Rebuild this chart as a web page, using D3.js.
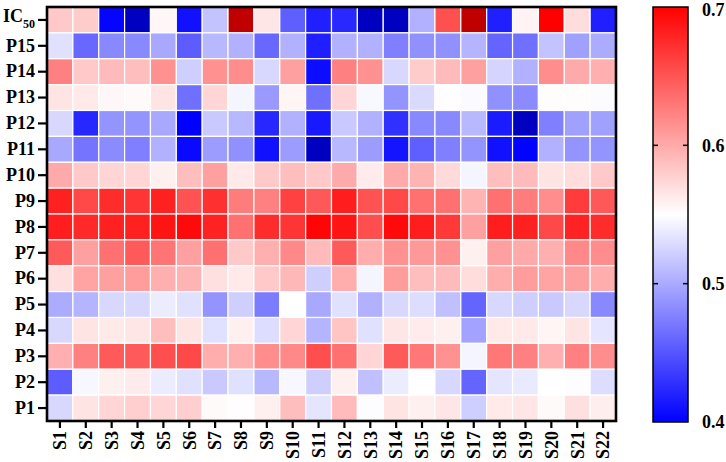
<!DOCTYPE html>
<html>
<head>
<meta charset="utf-8">
<script src="https://cdn.jsdelivr.net/npm/d3@7"></script>
<style>
  body { margin: 0; background: #fff; }
  text { font-family: "Liberation Serif", "Times New Roman", serif; font-weight: bold; }
</style>
</head>
<body>
<svg id="chart" width="726" height="462"></svg>
<script>
// column / row labels (rows listed top to bottom)
const samples = ["S1","S2","S3","S4","S5","S6","S7","S8","S9","S10","S11",
                 "S12","S13","S14","S15","S16","S17","S18","S19","S20","S21","S22"];
const rowNames = ["IC50","P15","P14","P13","P12","P11","P10","P9","P8","P7","P6","P5","P4","P3","P2","P1"];

// values, one array per row
const IC50 = [0.582,0.58,0.403,0.38,0.555,0.41,0.515,0.72,0.565,0.456,0.418,0.424,0.38,0.38,0.504,0.653,0.72,0.418,0.557,0.70,0.57,0.418];
const P15 = [0.532,0.461,0.48,0.48,0.499,0.454,0.508,0.504,0.461,0.504,0.418,0.504,0.504,0.475,0.485,0.485,0.506,0.459,0.466,0.515,0.494,0.501];
const P14 = [0.625,0.582,0.59,0.588,0.615,0.522,0.615,0.617,0.527,0.606,0.407,0.625,0.615,0.527,0.58,0.59,0.606,0.525,0.504,0.617,0.60,0.597];
const P13 = [0.566,0.563,0.555,0.553,0.566,0.466,0.575,0.544,0.49,0.556,0.466,0.575,0.546,0.487,0.528,0.551,0.547,0.485,0.482,0.552,0.552,0.548];
const P12 = [0.527,0.423,0.487,0.487,0.499,0.40,0.518,0.508,0.423,0.504,0.415,0.518,0.504,0.428,0.48,0.48,0.508,0.416,0.38,0.475,0.494,0.494];
const P11 = [0.499,0.468,0.482,0.475,0.504,0.405,0.492,0.485,0.41,0.492,0.38,0.508,0.492,0.412,0.456,0.475,0.487,0.41,0.401,0.504,0.487,0.487];
const P10 = [0.60,0.582,0.575,0.575,0.559,0.588,0.606,0.563,0.582,0.588,0.582,0.60,0.562,0.60,0.594,0.572,0.544,0.588,0.59,0.566,0.57,0.582];
const P9  = [0.681,0.657,0.674,0.669,0.681,0.652,0.672,0.627,0.625,0.662,0.648,0.683,0.652,0.657,0.634,0.634,0.594,0.634,0.627,0.617,0.665,0.648];
const P8  = [0.683,0.676,0.681,0.681,0.688,0.694,0.68,0.634,0.674,0.669,0.697,0.688,0.654,0.694,0.683,0.667,0.606,0.683,0.681,0.657,0.68,0.674];
const P7  = [0.647,0.606,0.634,0.647,0.632,0.606,0.634,0.582,0.597,0.62,0.59,0.647,0.598,0.615,0.61,0.615,0.559,0.606,0.60,0.597,0.62,0.617];
const P6  = [0.568,0.604,0.606,0.608,0.597,0.594,0.568,0.563,0.582,0.592,0.522,0.598,0.544,0.608,0.588,0.59,0.57,0.598,0.608,0.604,0.606,0.598];
const P5  = [0.501,0.506,0.527,0.527,0.539,0.532,0.487,0.522,0.473,0.55,0.499,0.532,0.504,0.527,0.53,0.513,0.459,0.527,0.522,0.518,0.527,0.48];
const P4  = [0.527,0.566,0.563,0.565,0.588,0.566,0.532,0.559,0.53,0.575,0.506,0.585,0.532,0.565,0.562,0.559,0.496,0.563,0.563,0.556,0.566,0.535];
const P3  = [0.597,0.625,0.647,0.647,0.654,0.657,0.598,0.597,0.617,0.62,0.654,0.634,0.575,0.647,0.63,0.615,0.544,0.63,0.625,0.597,0.625,0.617];
const P2  = [0.454,0.545,0.559,0.562,0.539,0.532,0.518,0.532,0.508,0.545,0.522,0.559,0.513,0.539,0.55,0.527,0.459,0.535,0.537,0.55,0.549,0.53];
const P1  = [0.527,0.566,0.575,0.578,0.575,0.578,0.553,0.551,0.559,0.588,0.535,0.59,0.549,0.566,0.559,0.565,0.522,0.563,0.565,0.553,0.568,0.56];

const rowValues = [IC50,P15,P14,P13,P12,P11,P10,P9,P8,P7,P6,P5,P4,P3,P2,P1];
const legendTicks = [0.4, 0.5, 0.6, 0.7];

const svg = d3.select('#chart');
const plot = { left: 47, top: 7, right: 616, bottom: 421 };

const x = d3.scaleBand().domain(samples).range([plot.left, plot.right]);
const y = d3.scaleBand().domain(rowNames).range([plot.top, plot.bottom]);

// blue - white - red, with darker colours outside the range
const ramp = d3.scaleLinear().domain([0.4, 0.55, 0.7]).range(["#0000ff", "#ffffff", "#ff0000"]);
const color = v => v > 0.7 ? "#c00000" : v < 0.4 ? "#0000c0" : ramp(v);

const cells = [];
rowNames.forEach((r, i) => {
    samples.forEach((s, j) => cells.push({ row: r, col: s, value: rowValues[i][j] }));
});

svg.append('g')
    .selectAll('rect')
    .data(cells)
    .join('rect')
    .attr('x', d => x(d.col))
    .attr('y', d => y(d.row))
    .attr('width', x.bandwidth())
    .attr('height', y.bandwidth())
    .attr('fill', d => color(d.value))
    .attr('stroke', '#fff')
    .attr('stroke-width', 1.2);

// frame
svg.append('rect')
    .attr('x', plot.left).attr('y', plot.top)
    .attr('width', plot.right - plot.left).attr('height', plot.bottom - plot.top)
    .attr('fill', 'none').attr('stroke', '#000').attr('stroke-width', 2.6);

// y axis
const yAxis = svg.append('g')
    .attr('transform', `translate(${plot.left - 1},0)`)
    .call(d3.axisLeft(y).tickSize(8).tickPadding(3).tickSizeOuter(0));
yAxis.select('.domain').remove();
yAxis.selectAll('line').attr('stroke-width', 2.2);
yAxis.selectAll('text')
    .attr('font-size', 18).attr('fill', '#000')
    .each(function(d) {
        if (d === 'IC50') {
            const t = d3.select(this).text('IC');
            t.append('tspan').attr('font-size', 12).attr('dy', 6).text('50');
            t.attr('dy', '0.1em');
        }
    });

// x axis
const xAxis = svg.append('g')
    .attr('transform', `translate(0,${plot.bottom + 1})`)
    .call(d3.axisBottom(x).tickSize(6).tickPadding(3).tickSizeOuter(0));
xAxis.select('.domain').remove();
xAxis.selectAll('line').attr('stroke-width', 2.2);
xAxis.selectAll('text')
    .attr('font-size', 18).attr('fill', '#000')
    .attr('transform', 'rotate(-90)')
    .attr('text-anchor', 'end')
    .attr('x', -9).attr('y', 0).attr('dy', '0.35em');

// colour bar
const bar = { x: 653, w: 35, top: 7, bottom: 422 };
const cScale = d3.scaleLinear().domain([0.4, 0.7]).range([bar.bottom, bar.top]);

const grad = svg.append('defs').append('linearGradient')
    .attr('id', 'grad').attr('x1', 0).attr('y1', 1).attr('x2', 0).attr('y2', 0);
[0.4, 0.55, 0.7].forEach(v => {
    grad.append('stop')
        .attr('offset', (v - 0.4) / 0.3)
        .attr('stop-color', ramp(v));
});

svg.append('rect')
    .attr('x', bar.x).attr('y', bar.top)
    .attr('width', bar.w).attr('height', bar.bottom - bar.top)
    .attr('fill', 'url(#grad)').attr('stroke', '#000').attr('stroke-width', 1.5);

// small inner tick marks on both edges
const inner = legendTicks.filter(v => v > 0.4 && v < 0.7);
svg.append('g').selectAll('line')
    .data(inner.flatMap(v => [[bar.x, bar.x + 5, v], [bar.x + bar.w - 5, bar.x + bar.w, v]]))
    .join('line')
    .attr('x1', d => d[0]).attr('x2', d => d[1])
    .attr('y1', d => cScale(d[2])).attr('y2', d => cScale(d[2]))
    .attr('stroke', '#000').attr('stroke-width', 1.5);

svg.append('g').selectAll('text')
    .data(legendTicks)
    .join('text')
    .attr('x', 702)
    .attr('y', d => cScale(d) + (d === 0.7 ? 3 : 0))
    .attr('dy', '0.35em')
    .attr('font-size', 18)
    .text(d => d3.format('.1f')(d));
</script>
</body>
</html>
